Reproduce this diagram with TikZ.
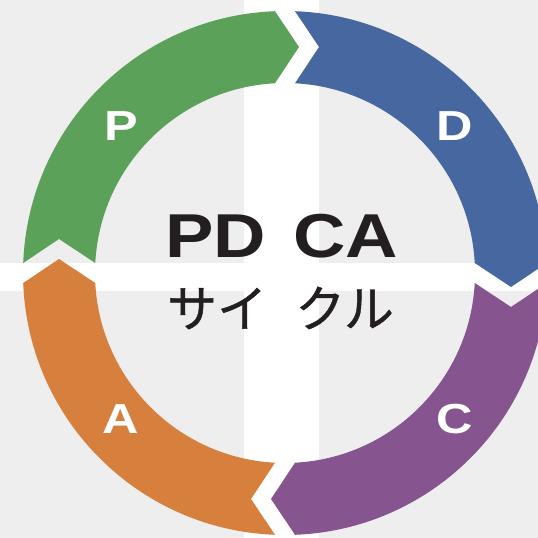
\documentclass[tikz,border=0pt]{standalone}
\usepackage{fontspec}
\newfontfamily\labelfont[FakeStretch=1.2]{Liberation Sans}
\newfontfamily\titlefont[FakeStretch=1.17]{Liberation Sans}
\newfontfamily\kanafont[FakeBold=0.8]{Noto Sans CJK JP}
\usetikzlibrary{positioning}
\definecolor{bggray}{RGB}{238,238,238}
\definecolor{plangreen}{RGB}{91,161,90}
\definecolor{doblue}{RGB}{70,103,159}
\definecolor{checkpurple}{RGB}{134,84,142}
\definecolor{actorange}{RGB}{215,128,62}
\definecolor{inkblack}{RGB}{35,31,32}

\begin{document}
\begin{tikzpicture}[x=1pt,y=1pt]
	\tikzstyle{letter} = [text=white, inner sep=0pt, font=\labelfont\bfseries\fontsize{42}{42}\selectfont]
	\tikzstyle{ring} = [shift={(285,265)}]
	\useasboundingbox (0,0) rectangle (538,538);
	\clip (0,0) rectangle (538,538);
	% background with white cross
	\fill[bggray] (0,0) rectangle (538,538);
	\fill[white] (243.5,0) rectangle (318.5,538);
	\fill[white] (0,247) rectangle (538,275);
	% the four arrows of the cycle
	\fill[plangreen, ring] (177.81:262) arc[start angle=177.81, end angle=92.19, radius=262] -- (14,226) -- (93.02:190) arc[start angle=93.02, end angle=176.98, radius=190] -- (-226,34) -- cycle;
	\fill[doblue, ring, rotate=-90] (177.81:262) arc[start angle=177.81, end angle=92.19, radius=262] -- (14,226) -- (93.02:190) arc[start angle=93.02, end angle=176.98, radius=190] -- (-226,34) -- cycle;
	\fill[checkpurple, ring, rotate=-180] (177.81:262) arc[start angle=177.81, end angle=92.19, radius=262] -- (14,226) -- (93.02:190) arc[start angle=93.02, end angle=176.98, radius=190] -- (-226,34) -- cycle;
	\fill[actorange, ring, rotate=-270] (177.81:262) arc[start angle=177.81, end angle=92.19, radius=262] -- (14,226) -- (93.02:190) arc[start angle=93.02, end angle=176.98, radius=190] -- (-226,34) -- cycle;
	% letters on the arrows
	\node[letter] (plan) at (121,411.5) {P};
	\node[letter] (do) at (455,411.5) {D};
	\node[letter] (check) at (455,118.5) {C};
	\node[letter] (act) at (120.5,119) {A};
	% title in the middle
	\node[anchor=base, inner sep=0pt, text=inkblack, font=\titlefont\bfseries\fontsize{62}{62}\selectfont] (title) at (281.5,280.5) {PD\hspace{7pt} CA};
	\node[inner sep=0pt, text=inkblack, font=\kanafont\fontsize{50}{50}\selectfont] (subtitle) at (280.5,230) {サイ\hspace{17pt} クル};
\end{tikzpicture}
\end{document}
